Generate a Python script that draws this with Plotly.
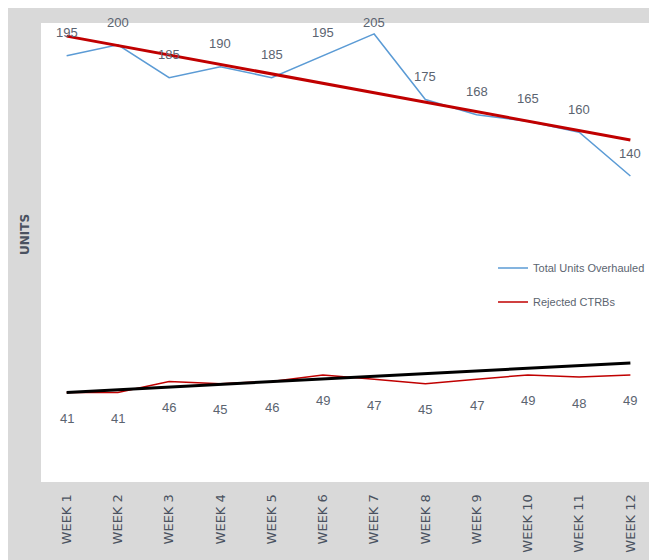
import plotly.graph_objects as go

weeks = ["WEEK %d" % i for i in range(1, 13)]
total_overhauled = [195, 200, 185, 190, 185, 195, 205, 175, 168, 165, 160, 140]
rejected_ctrbs = [41, 41, 46, 45, 46, 49, 47, 45, 47, 49, 48, 49]
# trend line end values (week 1, week 12)
total_trend = [204, 156.5]
rejected_trend = [41, 54.5]

label_color = "#5b6470"
label_font = dict(family="Liberation Sans, Arial", size=13, color=label_color)
legend_font = dict(family="Liberation Sans, Arial", size=11, color=label_color)

fig = go.Figure()

fig.add_trace(go.Scatter(x=weeks, y=total_overhauled, mode="lines", name="Total Units Overhauled",
                         line=dict(color="#5b9bd5", width=1.5), legend="legend"))
fig.add_trace(go.Scatter(x=weeks, y=rejected_ctrbs, mode="lines", name="Rejected CTRBs",
                         line=dict(color="#c00000", width=1.5), legend="legend2"))
fig.add_trace(go.Scatter(x=[weeks[0], weeks[-1]], y=total_trend, mode="lines",
                         line=dict(color="#c00000", width=3), showlegend=False))
fig.add_trace(go.Scatter(x=[weeks[0], weeks[-1]], y=rejected_trend, mode="lines",
                         line=dict(color="#000000", width=3), showlegend=False))

# data labels: above for the top series, below for the bottom one
ymax = 210
plot_h = 459
for w, v in zip(weeks, total_overhauled):
    room = (ymax - v) * plot_h / ymax + 1
    fig.add_annotation(x=w, y=v, text=str(v), showarrow=False, yshift=min(23, room), font=label_font)
for w, v in zip(weeks, rejected_ctrbs):
    fig.add_annotation(x=w, y=v, text=str(v), showarrow=False, yshift=-26, font=label_font)

fig.add_annotation(xref="paper", yref="paper", x=-0.041, y=0.54, text="<b>UNITS</b>", textangle=-90,
                   showarrow=False, font=dict(family="DejaVu Sans", size=12, color="#4a5260"))

fig.update_layout(
    width=657, height=560,
    margin=dict(l=33, r=9, t=15, b=86, autoexpand=False),
    paper_bgcolor="#d9d9d9",
    plot_bgcolor="white",
    legend=dict(x=0.735, y=0.466, xanchor="left", yanchor="middle", bgcolor="rgba(0,0,0,0)",
                font=legend_font, itemwidth=30),
    legend2=dict(x=0.735, y=0.392, xanchor="left", yanchor="middle", bgcolor="rgba(0,0,0,0)",
                 font=legend_font, itemwidth=30),
    xaxis=dict(type="category", range=[-0.5, 11.5], showgrid=False, zeroline=False, showline=False,
               automargin=False, tickangle=-90, ticks="outside", ticklen=6, tickcolor="#d9d9d9",
               tickfont=dict(family="DejaVu Sans", size=13, color="#4a5260")),
    yaxis=dict(range=[0, ymax], showgrid=False, zeroline=False, showline=False, showticklabels=False,
               automargin=False),
)

fig.write_html("out.html")
